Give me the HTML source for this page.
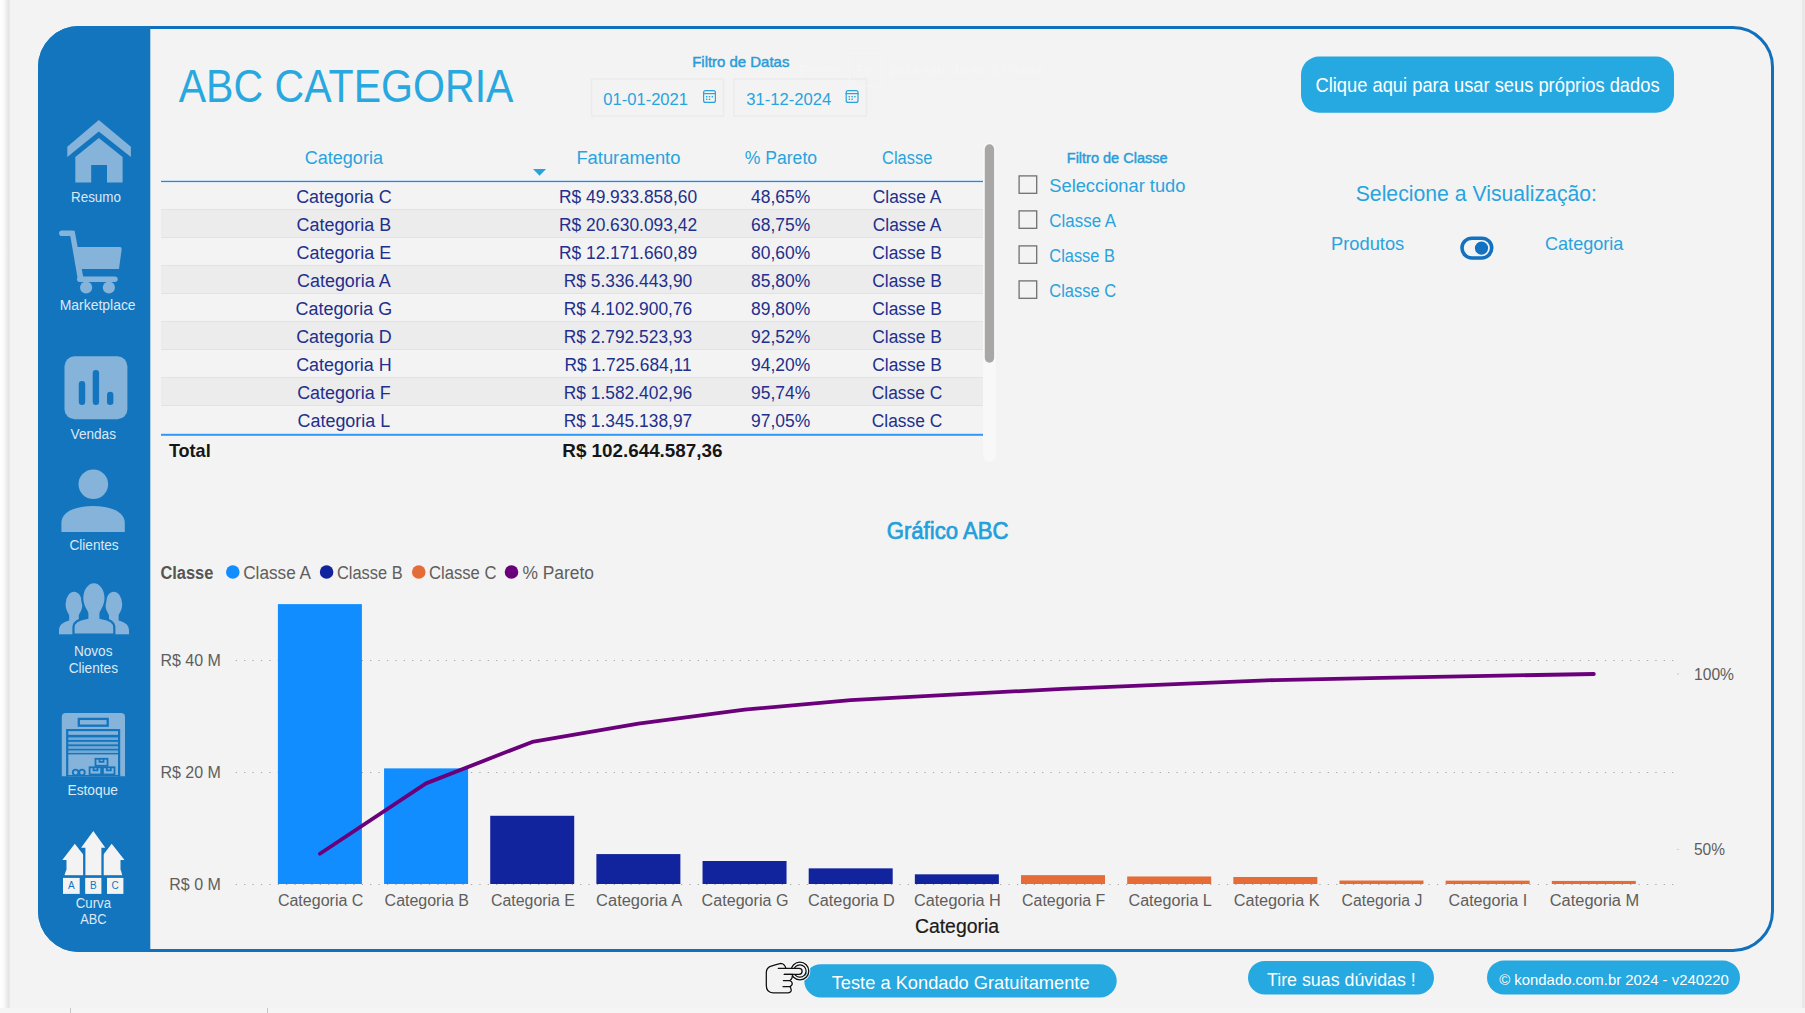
<!DOCTYPE html>
<html><head><meta charset="utf-8"><title>ABC Categoria</title>
<style>html,body{margin:0;padding:0;width:1805px;height:1013px;overflow:hidden;background:#fff;font-family:"Liberation Sans",sans-serif}svg{display:block}</style>
</head><body>
<svg width="1805" height="1013" viewBox="0 0 1805 1013" font-family="Liberation Sans, sans-serif">
<rect x="0" y="0" width="1805" height="1013" fill="#ffffff"/>
<defs><linearGradient id="ls" x1="0" x2="1" y1="0" y2="0"><stop offset="0" stop-color="#ffffff"/><stop offset="0.35" stop-color="#fbfbfb"/><stop offset="0.9" stop-color="#e3e3e3"/><stop offset="1" stop-color="#ececec"/></linearGradient></defs>
<rect x="10" y="0" width="1792" height="1008" fill="#f3f3f3"/>
<rect x="0" y="0" width="10" height="1008" fill="url(#ls)"/>
<rect x="1802" y="0" width="3" height="1008" fill="#e8e8e8"/>
<rect x="0" y="1008" width="1805" height="5" fill="#f5f5f5"/>
<rect x="70" y="1008" width="1" height="5" fill="#c6c6c6"/><rect x="267" y="1008" width="1" height="5" fill="#c6c6c6"/>
<defs><clipPath id="pc"><rect x="38" y="26" width="1736" height="926" rx="41"/></clipPath></defs>
<rect x="39.5" y="27.5" width="1733" height="923" rx="39.5" fill="#f3f3f3" stroke="#1070bb" stroke-width="3"/>
<rect x="38" y="26" width="112.3" height="926" fill="#1275be" clip-path="url(#pc)"/>
<path fill="#85b3da" d="M98.8,120 L130.9,146.7 L130.9,156.9 L98.8,131.5 L67.3,156.9 L67.3,146.7 Z"/>
<path fill="#85b3da" d="M98.8,138 L122.6,156.9 L122.6,182.5 L107,182.5 L107,165.1 L91.2,165.1 L91.2,182.5 L75.3,182.5 L75.3,156.9 Z"/>
<g fill="#85b3da"><rect x="59.1" y="230.5" width="15.6" height="5.6" rx="2.8"/><path d="M69.6,232 L74.6,230.5 L83.6,279 L78.2,281.5 Z"/><path d="M76.6,247.1 L120,247.1 Q121.9,247.1 121.7,249 L119,268.9 L80.6,268.9 Z"/><rect x="77" y="276.5" width="40.7" height="5.5" rx="2.75"/><circle cx="86.1" cy="287.5" r="6.1"/><circle cx="108.9" cy="287.5" r="6.1"/></g>
<rect x="64.5" y="356.3" width="62.9" height="62.9" rx="10" fill="#85b3da"/>
<g stroke="#1275be" stroke-width="6.4" stroke-linecap="round"><line x1="82" y1="384.2" x2="82" y2="401.8"/><line x1="95.9" y1="373.2" x2="95.9" y2="401.8"/><line x1="110.2" y1="394.9" x2="110.2" y2="401.8"/></g>
<circle cx="93.3" cy="484.3" r="14.8" fill="#85b3da"/>
<path fill="#85b3da" d="M61.4,532 L61.4,523 C61.4,511 77,506 93.1,506 C109,506 124.8,511 124.8,523 L124.8,532 Z"/>
<path fill="#85b3da" d="M65.6,604.0999999999999 A8.4,12.3 0 0 1 82.4,604.0999999999999 C82.4,610.8649999999999 78.8,613.9399999999999 78.8,615.7849999999999 L78.8,620.5 C84,622.5 88,624.5 88,630.5 L88,634.6 L59.0,634.6 L59.0,630.5 C59.0,624.5 63.0,622.5 69.2,620.5 L69.2,615.7849999999999 C69.2,613.9399999999999 65.6,610.8649999999999 65.6,604.0999999999999 Z"/>
<path fill="#85b3da" d="M105.39999999999999,604.0999999999999 A8.4,12.3 0 0 1 122.2,604.0999999999999 C122.2,610.8649999999999 118.6,613.9399999999999 118.6,615.7849999999999 L118.6,620.5 C125.0,622.5 129.0,624.5 129.0,630.5 L129.0,634.6 L99.5,634.6 L99.5,630.5 C99.5,624.5 103.5,622.5 109.0,620.5 L109.0,615.7849999999999 C109.0,613.9399999999999 105.39999999999999,610.8649999999999 105.39999999999999,604.0999999999999 Z"/>
<path fill="#85b3da" stroke="#1275be" stroke-width="2.2" d="M82.2,598.2 A11.7,16.0 0 0 1 105.60000000000001,598.2 C105.60000000000001,607.0 100.5,611.0 100.5,613.4000000000001 L100.5,617.8 C110.3,619.8 114.3,621.8 114.3,627.8 L114.3,634.6 L73.5,634.6 L73.5,627.8 C73.5,621.8 77.5,619.8 87.30000000000001,617.8 L87.30000000000001,613.4000000000001 C87.30000000000001,611.0 82.2,607.0 82.2,598.2 Z"/>
<rect x="58" y="634.6" width="72" height="4" fill="#1275be"/>
<path fill="#85b3da" d="M61.8,776.3 L61.8,717 Q61.8,713 65.8,713 L121,713 Q125,713 125,717 L125,776.3 Z"/>
<rect x="66.1" y="729" width="54.1" height="47.3" fill="#1275be"/>
<rect x="78.8" y="718.9" width="28.9" height="6.8" fill="none" stroke="#1275be" stroke-width="2.3"/>
<g fill="#85b3da"><rect x="68.3" y="731.2" width="49.7" height="3.6"/>
<rect x="68.3" y="737.4" width="49.7" height="2.6" opacity="0.85"/>
<rect x="68.3" y="741.8" width="49.7" height="2.6" opacity="0.85"/>
<rect x="68.3" y="746.2" width="49.7" height="2.6" opacity="0.85"/>
<rect x="68.3" y="750.4" width="49.7" height="2.6" opacity="0.85"/>
<rect x="68.3" y="754.4" width="49.7" height="21.9"/></g>
<g fill="none" stroke="#1275be" stroke-width="1.8"><rect x="95.5" y="758.8" width="12" height="7"/><rect x="89.6" y="767.3" width="11.6" height="7.2"/><rect x="102.9" y="767.3" width="11.6" height="7.2"/><path d="M99.5,758.8 v3 h4 v-3 M93.5,767.3 v3 h4 v-3 M106.8,767.3 v3 h4 v-3"/><circle cx="75.6" cy="772.5" r="2.8"/><circle cx="82" cy="772.5" r="2.8"/></g>
<rect x="66.1" y="775" width="54.1" height="1.4" fill="#1275be"/>
<path fill="#f3f3f3" d="M74.8,843.8 L87.5,860.1 L84,860.1 L84,875.4 L64.4,875.4 Q65.5,871.5 66.5,869.4 L66.5,860.1 L62.3,860.1 Z"/>
<path fill="#f3f3f3" d="M111.7,843.8 L124.5,860.1 L120.5,860.1 L120.5,869.4 Q121.5,871.5 122.3,875.4 L102.8,875.4 L102.8,860.1 L99.2,860.1 Z"/>
<path fill="#1275be" stroke="#1275be" stroke-width="4.6" stroke-linejoin="round" d="M93.3,831 L105.3,847.7 L101.4,847.7 L101.4,875.4 L85.4,875.4 L85.4,847.7 L81.1,847.7 Z"/>
<path fill="#f3f3f3" d="M93.3,831 L105.3,847.7 L101.4,847.7 L101.4,875.4 L85.4,875.4 L85.4,847.7 L81.1,847.7 Z"/>
<rect x="60" y="875.4" width="67" height="2.5" fill="#1275be"/>
<rect x="63" y="877.9" width="16.7" height="16" fill="#f3f3f3"/>
<text x="68.00" y="889.40" font-size="10" fill="#1275be" textLength="6.67" lengthAdjust="spacingAndGlyphs">A</text>
<rect x="85.2" y="877.9" width="16.2" height="16" fill="#f3f3f3"/>
<text x="89.95" y="889.40" font-size="10" fill="#1275be" textLength="6.67" lengthAdjust="spacingAndGlyphs">B</text>
<rect x="107" y="877.9" width="16.4" height="16" fill="#f3f3f3"/>
<text x="111.60" y="889.40" font-size="10" fill="#1275be" textLength="7.22" lengthAdjust="spacingAndGlyphs">C</text>
<text x="71.00" y="202.00" font-size="14" fill="#dde8f4" textLength="49.93" lengthAdjust="spacingAndGlyphs">Resumo</text>
<text x="59.70" y="310.10" font-size="14" fill="#dde8f4" textLength="75.95" lengthAdjust="spacingAndGlyphs">Marketplace</text>
<text x="70.60" y="438.80" font-size="14" fill="#dde8f4" textLength="45.41" lengthAdjust="spacingAndGlyphs">Vendas</text>
<text x="69.50" y="549.50" font-size="14" fill="#dde8f4" textLength="49.18" lengthAdjust="spacingAndGlyphs">Clientes</text>
<text x="73.90" y="656.30" font-size="14" fill="#dde8f4" textLength="38.58" lengthAdjust="spacingAndGlyphs">Novos</text>
<text x="68.70" y="672.70" font-size="14" fill="#dde8f4" textLength="49.28" lengthAdjust="spacingAndGlyphs">Clientes</text>
<text x="67.50" y="795.00" font-size="14" fill="#dde8f4" textLength="50.47" lengthAdjust="spacingAndGlyphs">Estoque</text>
<text x="75.80" y="907.80" font-size="14" fill="#dde8f4" textLength="35.25" lengthAdjust="spacingAndGlyphs">Curva</text>
<text x="80.30" y="924.20" font-size="14" fill="#dde8f4" textLength="26.29" lengthAdjust="spacingAndGlyphs">ABC</text>
<text x="178.70" y="102.00" font-size="46" fill="#29a8e0" textLength="334.77" lengthAdjust="spacingAndGlyphs">ABC CATEGORIA</text>
<text x="692.20" y="66.60" font-size="14.5" stroke="#2a9cd9" stroke-width="0.45" fill="#2a9cd9" textLength="97.18" lengthAdjust="spacingAndGlyphs">Filtro de Datas</text>
<rect x="591.55" y="79" width="132.0" height="37" fill="none" stroke="#ebebeb" stroke-width="1.5"/>
<rect x="733.95" y="79" width="132.5" height="37" fill="none" stroke="#ebebeb" stroke-width="1.5"/>
<text x="603.30" y="104.50" font-size="16.5" fill="#29a3dd" textLength="84.70" lengthAdjust="spacingAndGlyphs">01-01-2021</text>
<text x="746.20" y="104.50" font-size="16.5" fill="#29a3dd" textLength="85.10" lengthAdjust="spacingAndGlyphs">31-12-2024</text>
<g fill="none" stroke="#29a3dd" stroke-width="1.2"><rect x="703.6" y="90.6" width="11.8" height="11.8" rx="2"/><line x1="703" y1="93.6" x2="716" y2="93.6"/></g><g fill="#29a3dd"><rect x="706" y="96" width="1.4" height="1.4"/><rect x="708.8" y="96" width="1.4" height="1.4"/><rect x="711.6" y="96" width="1.4" height="1.4"/><rect x="706" y="98.6" width="1.4" height="1.4"/><rect x="708.8" y="98.6" width="1.4" height="1.4"/></g>
<g fill="none" stroke="#29a3dd" stroke-width="1.2"><rect x="846.2" y="90.6" width="11.8" height="11.8" rx="2"/><line x1="845.6" y1="93.6" x2="858.6" y2="93.6"/></g><g fill="#29a3dd"><rect x="848.6" y="96" width="1.4" height="1.4"/><rect x="851.4" y="96" width="1.4" height="1.4"/><rect x="854.2" y="96" width="1.4" height="1.4"/><rect x="848.6" y="98.6" width="1.4" height="1.4"/><rect x="851.4" y="98.6" width="1.4" height="1.4"/></g>
<rect x="849.6" y="53.4" width="31.8" height="32.7" fill="none" stroke="#f5f5f5" stroke-width="1"/>
<text x="798.90" y="74.70" font-size="15" font-weight="bold" fill="#f5f5f5" textLength="42.92" lengthAdjust="spacingAndGlyphs">Premir</text>
<text x="855.90" y="74.70" font-size="15" font-weight="bold" fill="#f5f5f5" textLength="19.99" lengthAdjust="spacingAndGlyphs">Esc</text>
<text x="889.70" y="74.70" font-size="15" font-weight="bold" fill="#f5f5f5" textLength="154.57" lengthAdjust="spacingAndGlyphs">para sair do ecrã inteiro</text>
<rect x="1301" y="56.6" width="373" height="56.1" rx="18" fill="#26a8e0"/>
<text x="1315.50" y="92.10" font-size="20.5" fill="#ffffff" textLength="344.09" lengthAdjust="spacingAndGlyphs">Clique aqui para usar seus próprios dados</text>
<rect x="161" y="209" width="822" height="28" fill="#ececec"/>
<rect x="161" y="210" width="822" height="28" fill="#ececec"/>
<rect x="161" y="266" width="822" height="28" fill="#ececec"/>
<rect x="161" y="322" width="822" height="28" fill="#ececec"/>
<rect x="161" y="378" width="822" height="28" fill="#ececec"/>
<rect x="161" y="209" width="822" height="1" fill="#e2e2e2"/>
<rect x="161" y="237" width="822" height="1" fill="#e2e2e2"/>
<rect x="161" y="265" width="822" height="1" fill="#e2e2e2"/>
<rect x="161" y="293" width="822" height="1" fill="#e2e2e2"/>
<rect x="161" y="321" width="822" height="1" fill="#e2e2e2"/>
<rect x="161" y="349" width="822" height="1" fill="#e2e2e2"/>
<rect x="161" y="377" width="822" height="1" fill="#e2e2e2"/>
<rect x="161" y="405" width="822" height="1" fill="#e2e2e2"/>
<rect x="161" y="180.8" width="822" height="1.3" fill="#168cf5"/>
<rect x="161" y="433.8" width="822" height="2" fill="#2f97f5"/>
<path d="M533,169 L546.1,169 L539.6,175.8 Z" fill="#29a3dd"/>
<text x="304.70" y="164.10" font-size="18" fill="#29a3dd" textLength="78.25" lengthAdjust="spacingAndGlyphs">Categoria</text>
<text x="576.40" y="164.10" font-size="18" fill="#29a3dd" textLength="104.05" lengthAdjust="spacingAndGlyphs">Faturamento</text>
<text x="744.80" y="164.10" font-size="18" fill="#29a3dd" textLength="72.24" lengthAdjust="spacingAndGlyphs">% Pareto</text>
<text x="882.00" y="164.10" font-size="18" fill="#29a3dd" textLength="50.32" lengthAdjust="spacingAndGlyphs">Classe</text>
<text x="296.14" y="202.90" font-size="18" fill="#222f8c" textLength="95.57" lengthAdjust="spacingAndGlyphs">Categoria C</text>
<text x="558.95" y="202.90" font-size="18" fill="#222f8c" textLength="138.12" lengthAdjust="spacingAndGlyphs">R$ 49.933.858,60</text>
<text x="750.97" y="202.90" font-size="18" fill="#222f8c" textLength="59.22" lengthAdjust="spacingAndGlyphs">48,65%</text>
<text x="872.74" y="202.90" font-size="18" fill="#222f8c" textLength="68.55" lengthAdjust="spacingAndGlyphs">Classe A</text>
<text x="296.59" y="230.90" font-size="18" fill="#222f8c" textLength="94.58" lengthAdjust="spacingAndGlyphs">Categoria B</text>
<text x="558.95" y="230.90" font-size="18" fill="#222f8c" textLength="138.12" lengthAdjust="spacingAndGlyphs">R$ 20.630.093,42</text>
<text x="750.97" y="230.90" font-size="18" fill="#222f8c" textLength="59.22" lengthAdjust="spacingAndGlyphs">68,75%</text>
<text x="872.74" y="230.90" font-size="18" fill="#222f8c" textLength="68.55" lengthAdjust="spacingAndGlyphs">Classe A</text>
<text x="296.59" y="258.90" font-size="18" fill="#222f8c" textLength="94.58" lengthAdjust="spacingAndGlyphs">Categoria E</text>
<text x="558.95" y="258.90" font-size="18" fill="#222f8c" textLength="138.12" lengthAdjust="spacingAndGlyphs">R$ 12.171.660,89</text>
<text x="750.97" y="258.90" font-size="18" fill="#222f8c" textLength="59.22" lengthAdjust="spacingAndGlyphs">80,60%</text>
<text x="872.26" y="258.90" font-size="18" fill="#222f8c" textLength="69.51" lengthAdjust="spacingAndGlyphs">Classe B</text>
<text x="297.09" y="286.90" font-size="18" fill="#222f8c" textLength="93.59" lengthAdjust="spacingAndGlyphs">Categoria A</text>
<text x="563.78" y="286.90" font-size="18" fill="#222f8c" textLength="128.46" lengthAdjust="spacingAndGlyphs">R$ 5.336.443,90</text>
<text x="750.97" y="286.90" font-size="18" fill="#222f8c" textLength="59.22" lengthAdjust="spacingAndGlyphs">85,80%</text>
<text x="872.26" y="286.90" font-size="18" fill="#222f8c" textLength="69.51" lengthAdjust="spacingAndGlyphs">Classe B</text>
<text x="295.59" y="314.90" font-size="18" fill="#222f8c" textLength="96.56" lengthAdjust="spacingAndGlyphs">Categoria G</text>
<text x="563.78" y="314.90" font-size="18" fill="#222f8c" textLength="128.46" lengthAdjust="spacingAndGlyphs">R$ 4.102.900,76</text>
<text x="750.97" y="314.90" font-size="18" fill="#222f8c" textLength="59.22" lengthAdjust="spacingAndGlyphs">89,80%</text>
<text x="872.26" y="314.90" font-size="18" fill="#222f8c" textLength="69.51" lengthAdjust="spacingAndGlyphs">Classe B</text>
<text x="296.14" y="342.90" font-size="18" fill="#222f8c" textLength="95.57" lengthAdjust="spacingAndGlyphs">Categoria D</text>
<text x="563.78" y="342.90" font-size="18" fill="#222f8c" textLength="128.46" lengthAdjust="spacingAndGlyphs">R$ 2.792.523,93</text>
<text x="750.97" y="342.90" font-size="18" fill="#222f8c" textLength="59.22" lengthAdjust="spacingAndGlyphs">92,52%</text>
<text x="872.26" y="342.90" font-size="18" fill="#222f8c" textLength="69.51" lengthAdjust="spacingAndGlyphs">Classe B</text>
<text x="296.14" y="370.90" font-size="18" fill="#222f8c" textLength="95.57" lengthAdjust="spacingAndGlyphs">Categoria H</text>
<text x="564.41" y="370.90" font-size="18" fill="#222f8c" textLength="127.17" lengthAdjust="spacingAndGlyphs">R$ 1.725.684,11</text>
<text x="750.97" y="370.90" font-size="18" fill="#222f8c" textLength="59.22" lengthAdjust="spacingAndGlyphs">94,20%</text>
<text x="872.26" y="370.90" font-size="18" fill="#222f8c" textLength="69.51" lengthAdjust="spacingAndGlyphs">Classe B</text>
<text x="297.13" y="398.90" font-size="18" fill="#222f8c" textLength="93.57" lengthAdjust="spacingAndGlyphs">Categoria F</text>
<text x="563.78" y="398.90" font-size="18" fill="#222f8c" textLength="128.46" lengthAdjust="spacingAndGlyphs">R$ 1.582.402,96</text>
<text x="750.97" y="398.90" font-size="18" fill="#222f8c" textLength="59.22" lengthAdjust="spacingAndGlyphs">95,74%</text>
<text x="871.78" y="398.90" font-size="18" fill="#222f8c" textLength="70.46" lengthAdjust="spacingAndGlyphs">Classe C</text>
<text x="297.58" y="426.90" font-size="18" fill="#222f8c" textLength="92.59" lengthAdjust="spacingAndGlyphs">Categoria L</text>
<text x="563.78" y="426.90" font-size="18" fill="#222f8c" textLength="128.46" lengthAdjust="spacingAndGlyphs">R$ 1.345.138,97</text>
<text x="750.97" y="426.90" font-size="18" fill="#222f8c" textLength="59.22" lengthAdjust="spacingAndGlyphs">97,05%</text>
<text x="871.78" y="426.90" font-size="18" fill="#222f8c" textLength="70.46" lengthAdjust="spacingAndGlyphs">Classe C</text>
<text x="168.90" y="457.00" font-size="18.4" font-weight="bold" fill="#161616" textLength="41.79" lengthAdjust="spacingAndGlyphs">Total</text>
<text x="562.30" y="457.00" font-size="18.6" font-weight="bold" fill="#161616" textLength="160.13" lengthAdjust="spacingAndGlyphs">R$ 102.644.587,36</text>
<rect x="983" y="143" width="12.7" height="319" rx="6.35" fill="#f8f8f8"/>
<rect x="984.8" y="144.3" width="9.3" height="218.4" rx="4.65" fill="#a8a7a6"/>
<text x="1066.80" y="162.70" font-size="14.5" stroke="#2a9cd9" stroke-width="0.45" fill="#2a9cd9" textLength="100.73" lengthAdjust="spacingAndGlyphs">Filtro de Classe</text>
<rect x="1019.1" y="175.9" width="17.6" height="17.4" fill="none" stroke="#707070" stroke-width="1.3"/>
<text x="1049.30" y="192.00" font-size="18.3" fill="#29a3dd" textLength="136.12" lengthAdjust="spacingAndGlyphs">Seleccionar tudo</text>
<rect x="1019.1" y="210.9" width="17.6" height="17.4" fill="none" stroke="#707070" stroke-width="1.3"/>
<text x="1049.30" y="227.00" font-size="18.3" fill="#29a3dd" textLength="66.82" lengthAdjust="spacingAndGlyphs">Classe A</text>
<rect x="1019.1" y="245.9" width="17.6" height="17.4" fill="none" stroke="#707070" stroke-width="1.3"/>
<text x="1049.30" y="262.00" font-size="18.3" fill="#29a3dd" textLength="65.63" lengthAdjust="spacingAndGlyphs">Classe B</text>
<rect x="1019.1" y="280.9" width="17.6" height="17.4" fill="none" stroke="#707070" stroke-width="1.3"/>
<text x="1049.30" y="297.00" font-size="18.3" fill="#29a3dd" textLength="66.83" lengthAdjust="spacingAndGlyphs">Classe C</text>
<text x="1355.70" y="201.10" font-size="22" fill="#29a3dd" textLength="241.32" lengthAdjust="spacingAndGlyphs">Selecione a Visualização:</text>
<text x="1331.00" y="250.40" font-size="18.2" fill="#29a3dd" textLength="73.24" lengthAdjust="spacingAndGlyphs">Produtos</text>
<text x="1545.00" y="250.40" font-size="18.2" fill="#29a3dd" textLength="78.41" lengthAdjust="spacingAndGlyphs">Categoria</text>
<rect x="1462" y="238.2" width="29.7" height="19.8" rx="9.9" fill="none" stroke="#1271c0" stroke-width="3.6"/>
<circle cx="1481.5" cy="248.1" r="6.6" fill="#1271c0"/>
<text x="886.70" y="538.90" font-size="23.5" stroke="#1fa0dc" stroke-width="0.7" fill="#1fa0dc" textLength="121.90" lengthAdjust="spacingAndGlyphs">Gráfico ABC</text>
<text x="160.40" y="579.00" font-size="18" font-weight="bold" fill="#555555" textLength="52.94" lengthAdjust="spacingAndGlyphs">Classe</text>
<circle cx="232.8" cy="572" r="6.8" fill="#118dff"/>
<text x="243.20" y="579.00" font-size="18" fill="#605e5c" textLength="67.83" lengthAdjust="spacingAndGlyphs">Classe A</text>
<circle cx="326.6" cy="572" r="6.8" fill="#12239e"/>
<text x="337.00" y="579.00" font-size="18" fill="#605e5c" textLength="65.62" lengthAdjust="spacingAndGlyphs">Classe B</text>
<circle cx="418.75" cy="572" r="6.8" fill="#e66c37"/>
<text x="429.00" y="579.00" font-size="18" fill="#605e5c" textLength="67.42" lengthAdjust="spacingAndGlyphs">Classe C</text>
<circle cx="511.5" cy="572" r="6.8" fill="#6b007b"/>
<text x="522.40" y="579.00" font-size="18" fill="#605e5c" textLength="71.64" lengthAdjust="spacingAndGlyphs">% Pareto</text>
<line x1="235.7" y1="660.5" x2="1675.5" y2="660.5" stroke="#a9a9a9" stroke-width="1.2" stroke-dasharray="1.3 7.1"/>
<line x1="235.7" y1="772.5" x2="1675.5" y2="772.5" stroke="#a9a9a9" stroke-width="1.2" stroke-dasharray="1.3 7.1"/>
<line x1="235.7" y1="884.5" x2="1675.5" y2="884.5" stroke="#a9a9a9" stroke-width="1.2" stroke-dasharray="1.3 7.1"/>
<text x="160.40" y="666.00" font-size="16" fill="#605e5c" textLength="60.47" lengthAdjust="spacingAndGlyphs">R$ 40 M</text>
<text x="160.40" y="778.00" font-size="16" fill="#605e5c" textLength="60.47" lengthAdjust="spacingAndGlyphs">R$ 20 M</text>
<text x="169.30" y="890.00" font-size="16" fill="#605e5c" textLength="51.57" lengthAdjust="spacingAndGlyphs">R$ 0 M</text>
<text x="1694.00" y="680.00" font-size="16" fill="#605e5c" textLength="40.02" lengthAdjust="spacingAndGlyphs">100%</text>
<text x="1694.00" y="855.40" font-size="16" fill="#605e5c" textLength="31.02" lengthAdjust="spacingAndGlyphs">50%</text>
<circle cx="1678" cy="674" r="0.7" fill="#bbbbbb"/><circle cx="1678" cy="849.4" r="0.7" fill="#bbbbbb"/>
<rect x="277.90" y="604.12" width="84" height="279.88" fill="#118dff"/>
<text x="277.90" y="906.20" font-size="16" fill="#605e5c" textLength="85.47" lengthAdjust="spacingAndGlyphs">Categoria C</text>
<rect x="384.06" y="768.37" width="84" height="115.63" fill="#118dff"/>
<text x="384.60" y="906.20" font-size="16" fill="#605e5c" textLength="84.39" lengthAdjust="spacingAndGlyphs">Categoria B</text>
<rect x="490.22" y="815.78" width="84" height="68.22" fill="#12239e"/>
<text x="491.00" y="906.20" font-size="16" fill="#605e5c" textLength="83.89" lengthAdjust="spacingAndGlyphs">Categoria E</text>
<rect x="596.38" y="854.09" width="84" height="29.91" fill="#12239e"/>
<text x="596.10" y="906.20" font-size="16" fill="#605e5c" textLength="86.01" lengthAdjust="spacingAndGlyphs">Categoria A</text>
<rect x="702.54" y="861.00" width="84" height="23.00" fill="#12239e"/>
<text x="701.60" y="906.20" font-size="16" fill="#605e5c" textLength="86.87" lengthAdjust="spacingAndGlyphs">Categoria G</text>
<rect x="808.70" y="868.35" width="84" height="15.65" fill="#12239e"/>
<text x="808.00" y="906.20" font-size="16" fill="#605e5c" textLength="86.87" lengthAdjust="spacingAndGlyphs">Categoria D</text>
<rect x="914.86" y="874.33" width="84" height="9.67" fill="#12239e"/>
<text x="914.00" y="906.20" font-size="16" fill="#605e5c" textLength="86.87" lengthAdjust="spacingAndGlyphs">Categoria H</text>
<rect x="1021.02" y="875.13" width="84" height="8.87" fill="#e66c37"/>
<text x="1022.00" y="906.20" font-size="16" fill="#605e5c" textLength="83.29" lengthAdjust="spacingAndGlyphs">Categoria F</text>
<rect x="1127.18" y="876.46" width="84" height="7.54" fill="#e66c37"/>
<text x="1128.50" y="906.20" font-size="16" fill="#605e5c" textLength="83.32" lengthAdjust="spacingAndGlyphs">Categoria L</text>
<rect x="1233.34" y="876.99" width="84" height="7.01" fill="#e66c37"/>
<text x="1233.80" y="906.20" font-size="16" fill="#605e5c" textLength="85.69" lengthAdjust="spacingAndGlyphs">Categoria K</text>
<rect x="1339.50" y="880.52" width="84" height="3.48" fill="#e66c37"/>
<text x="1341.60" y="906.20" font-size="16" fill="#605e5c" textLength="80.72" lengthAdjust="spacingAndGlyphs">Categoria J</text>
<rect x="1445.66" y="880.64" width="84" height="3.36" fill="#e66c37"/>
<text x="1448.60" y="906.20" font-size="16" fill="#605e5c" textLength="78.57" lengthAdjust="spacingAndGlyphs">Categoria I</text>
<rect x="1551.82" y="880.92" width="84" height="3.08" fill="#e66c37"/>
<text x="1549.70" y="906.20" font-size="16" fill="#605e5c" textLength="89.55" lengthAdjust="spacingAndGlyphs">Categoria M</text>
<polyline points="319.90,853.73 426.06,783.38 532.22,741.90 638.38,723.70 744.54,709.70 850.70,700.18 956.86,694.30 1063.02,688.91 1169.18,684.33 1275.34,680.06 1381.50,677.95 1487.66,675.89 1593.82,674.00" fill="none" stroke="#6b007b" stroke-width="3.8" stroke-linejoin="round" stroke-linecap="round"/>
<text x="914.90" y="932.70" font-size="19.3" stroke="#1a1a1a" stroke-width="0.2" fill="#1a1a1a" textLength="84.19" lengthAdjust="spacingAndGlyphs">Categoria</text>
<rect x="804.3" y="964.3" width="312.4" height="33.1" rx="16.5" fill="#26a8e0"/>
<text x="831.70" y="989.00" font-size="19" fill="#ffffff" textLength="257.88" lengthAdjust="spacingAndGlyphs">Teste a Kondado Gratuitamente</text>
<rect x="1248" y="960.9" width="186" height="33.6" rx="16.8" fill="#26a8e0"/>
<text x="1267.00" y="985.70" font-size="18.5" fill="#ffffff" textLength="148.78" lengthAdjust="spacingAndGlyphs">Tire suas dúvidas !</text>
<rect x="1487" y="960.6" width="253" height="33.9" rx="16.9" fill="#26a8e0"/>
<text x="1499.20" y="984.60" font-size="15" fill="#ffffff" textLength="229.70" lengthAdjust="spacingAndGlyphs">© kondado.com.br 2024 - v240220</text>
<g fill="none" stroke="#ffffff" stroke-width="3.2" stroke-linecap="round" stroke-linejoin="round" opacity="0.9"><circle cx="799.9" cy="971" r="8.9"/><path d="M785.9,968.3 Q784.6,963.5 780.8,963.3 Q775,964.6 769.7,966.6 Q766.3,968.5 766.3,972.5 L766.3,985.6 Q766.3,992.8 773,992.8 L788.3,992.8 Q791.6,992.4 791.2,989.6 Q790.6,987.4 790.1,986.6 Q792.6,985.2 792.2,983.2 Q791.8,981.2 790.1,980.6 Q792.6,978.6 792.6,974.3 L784.3,974.3"/></g>
<g fill="none" stroke="#111" stroke-width="1.3"><circle cx="799.9" cy="971" r="8.9"/><circle cx="799.9" cy="971" r="6.2"/></g>
<g fill="#f3f3f3" stroke="#111" stroke-width="1.3" stroke-linecap="round" stroke-linejoin="round"><path d="M785.9,968.3 Q784.6,963.5 780.8,963.3 Q775,964.6 769.7,966.6 Q766.3,968.5 766.3,972.5 L766.3,985.6 Q766.3,992.8 773,992.8 L788.3,992.8 Q791.6,992.4 791.2,989.6 Q790.6,987.4 790.1,986.6 Q792.6,985.2 792.2,983.2 Q791.8,981.2 790.1,980.6 Q792.6,978.6 792.6,974.3 L784.3,974.3 Z" stroke="none"/><path d="M778.3,968.3 L799.1,968.3 A3,3 0 0 1 799.1,974.3 L784.3,974.3 L790,974.3 Z" stroke="none"/><path d="M785.9,968.3 Q784.6,963.5 780.8,963.3 Q775,964.6 769.7,966.6 Q766.3,968.5 766.3,972.5 L766.3,985.6 Q766.3,992.8 773,992.8 L788.3,992.8 Q791.6,992.4 791.2,989.6 Q790.6,987.4 790.1,986.6 Q792.6,985.2 792.2,983.2 Q791.8,981.2 790.1,980.6 Q792.6,978.6 792.6,974.3 L784.3,974.3" fill="none"/><path d="M778.3,968.3 L799.1,968.3 A3,3 0 0 1 799.1,974.3 L784.3,974.3" fill="none"/><path d="M783.4,980.6 L790.1,980.6 M783,986.6 L790.1,986.6" fill="none"/></g>
</svg>
</body></html>
